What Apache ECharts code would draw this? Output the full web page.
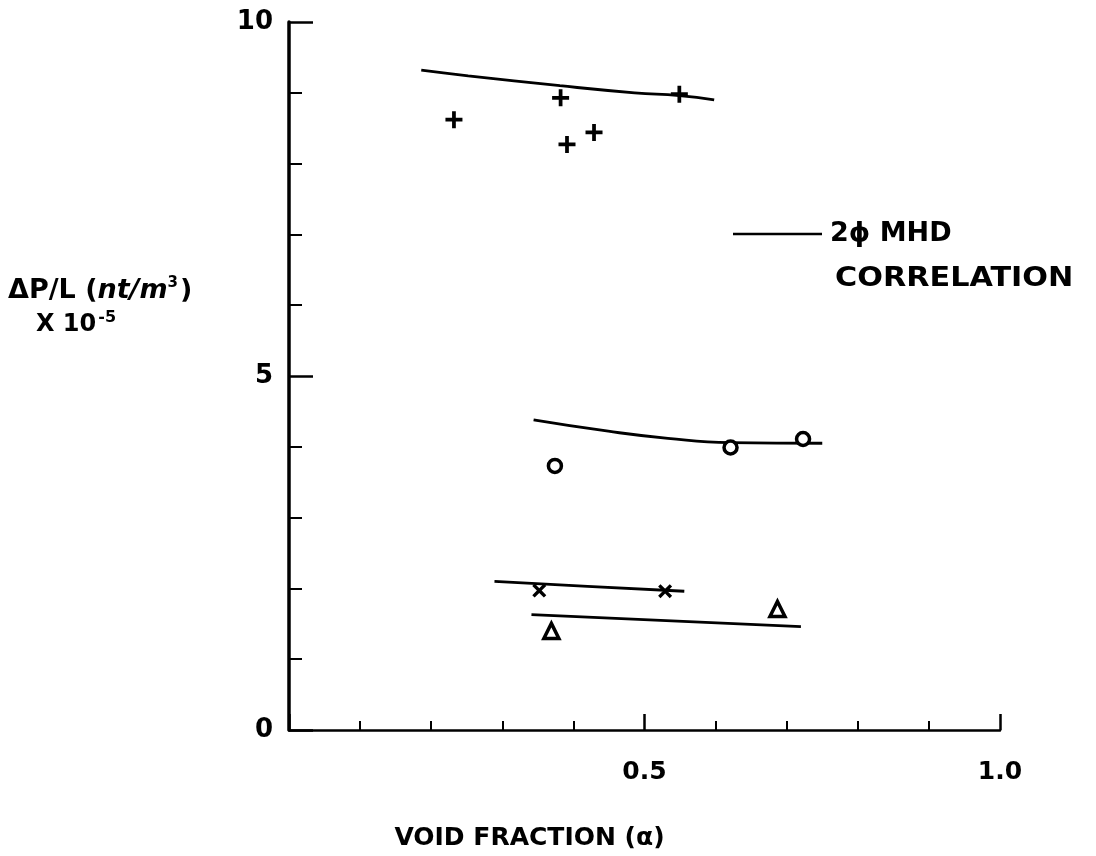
<!DOCTYPE html>
<html>
<head>
<meta charset="utf-8">
<script src="https://cdn.jsdelivr.net/npm/echarts@6/dist/echarts.min.js"></script>
<style>
  html, body { margin: 0; padding: 0; background: #fff; }
  #chart { width: 1096px; height: 856px; }
</style>
</head>
<body>
<div id="chart"></div>
<script>
// Void fraction (alpha) vs. pressure gradient dP/L (nt/m^3, x 10^-5)

// Measured points, one group per marker type
const plusPoints     = [[0.232, 8.62], [0.382, 8.93], [0.391, 8.27], [0.429, 8.44], [0.549, 8.98]];
const circlePoints   = [[0.374, 3.73], [0.621, 3.99], [0.723, 4.11]];
const crossPoints    = [[0.352, 1.97], [0.529, 1.96]];
const trianglePoints = [[0.369, 1.40], [0.687, 1.71]];

// Two-phase MHD correlation curves for each group
const plusCurve     = [[0.186, 9.32], [0.252, 9.24], [0.381, 9.10], [0.486, 9.00], [0.549, 8.96], [0.598, 8.90]];
const circleCurve   = [[0.344, 4.38], [0.449, 4.22], [0.533, 4.12], [0.621, 4.06], [0.750, 4.05]];
const crossCurve    = [[0.289, 2.10], [0.420, 2.03], [0.556, 1.96]];
const triangleCurve = [[0.341, 1.63], [0.720, 1.46]];

// Labelled tick values
const xTickLabels = { '0.5': '0.5', '1': '1.0' };
const yTickLabels = { '0': '0', '5': '5', '10': '10' };

const FONT = 'DejaVu Sans';
const INK = '#000';

const PLUS = 'path://M3.9,0H6.1V3.9H10V6.1H6.1V10H3.9V6.1H0V3.9H3.9Z';
const CROSS = 'path://M1.7,0L5,3.3L8.3,0L10,1.7L6.7,5L10,8.3L8.3,10L5,6.7L1.7,10L0,8.3L3.3,5L0,1.7Z';

function curve(data) {
  return {
    type: 'line', data: data, smooth: true, showSymbol: false, silent: true,
    lineStyle: { color: INK, width: 2.8 }, z: 2
  };
}
function points(data, symbol, size, hollow) {
  return {
    type: 'scatter', data: data, symbol: symbol, symbolSize: size, z: 3,
    itemStyle: hollow
      ? { color: '#fff', borderColor: INK, borderWidth: 3.5, opacity: 1 }
      : { color: INK, borderWidth: 0, opacity: 1 }
  };
}

const chart = echarts.init(document.getElementById('chart'), null, { renderer: 'canvas' });
chart.setOption({
  backgroundColor: '#fff',
  animation: false,
  grid: { left: 289, right: 96, top: 22, bottom: 125, containLabel: false },
  xAxis: {
    type: 'value', min: 0, max: 1, interval: 0.5,
    axisLine: { show: true, lineStyle: { color: INK, width: 2.5 } },
    axisTick: { show: true, inside: true, length: 16, lineStyle: { color: INK, width: 2.5 } },
    minorTick: { show: true, splitNumber: 5, length: 9, lineStyle: { color: INK, width: 2 } },
    splitLine: { show: false },
    axisLabel: {
      margin: 30, color: INK, fontFamily: FONT, fontSize: 25, fontWeight: 'bold',
      formatter: v => xTickLabels[String(v)] || ''
    },
    name: 'VOID FRACTION (α)',
    nameLocation: 'middle', nameGap: 96,
    nameTextStyle: { color: INK, fontFamily: FONT, fontSize: 25, fontWeight: 'bold', padding: [0, 230, 0, 0] }
  },
  yAxis: {
    type: 'value', min: 0, max: 10, interval: 5,
    axisLine: { show: true, lineStyle: { color: INK, width: 3.5 } },
    axisTick: { show: true, inside: true, length: 24, lineStyle: { color: INK, width: 2.5 } },
    minorTick: { show: true, splitNumber: 5, length: 13, lineStyle: { color: INK, width: 2 } },
    splitLine: { show: false },
    axisLabel: {
      margin: 16, color: INK, fontFamily: FONT, fontSize: 26, fontWeight: 'bold',
      formatter: v => yTickLabels[String(v)] || ''
    }
  },
  series: [
    curve(plusCurve), curve(circleCurve), curve(crossCurve), curve(triangleCurve),
    points(plusPoints, PLUS, 17, false),
    points(circlePoints, 'circle', 13, true),
    points(crossPoints, CROSS, 14, false),
    points(trianglePoints, 'triangle', 15, true)
  ],
  graphic: [
    // y-axis title
    {
      type: 'text', left: 8, top: 276,
      style: {
        text: '{n|ΔP/L (}{i|nt/m}{s|3}{n|)}',
        rich: {
          n: { fontFamily: FONT, fontSize: 27, fontWeight: 'bold', fill: INK },
          i: { fontFamily: FONT, fontSize: 27, fontStyle: 'italic', fontWeight: 'bold', fill: INK },
          s: { fontFamily: FONT, fontSize: 15, fontWeight: 'bold', fill: INK, padding: [0, 2, 14, 0] }
        }
      }
    },
    {
      type: 'text', left: 36, top: 310,
      style: {
        text: '{n|X 10}{s|-5}',
        rich: {
          n: { fontFamily: FONT, fontSize: 24, fontWeight: 'bold', fill: INK },
          s: { fontFamily: FONT, fontSize: 16, fontWeight: 'bold', fill: INK, padding: [0, 0, 14, 2] }
        }
      }
    },
    // correlation key
    {
      type: 'line', shape: { x1: 733, y1: 234, x2: 822, y2: 234 },
      style: { stroke: INK, lineWidth: 2.5 }
    },
    {
      type: 'text', x: 830, y: 234,
      style: { text: '2ϕ MHD', fontFamily: FONT, fontSize: 27, fontWeight: 'bold', fill: INK, verticalAlign: 'middle' }
    },
    {
      type: 'text', x: 835, y: 279, scaleX: 1.12,
      style: { text: 'CORRELATION', fontFamily: FONT, fontSize: 27, fontWeight: 'bold', fill: INK, verticalAlign: 'middle' }
    }
  ]
});
</script>
</body>
</html>
